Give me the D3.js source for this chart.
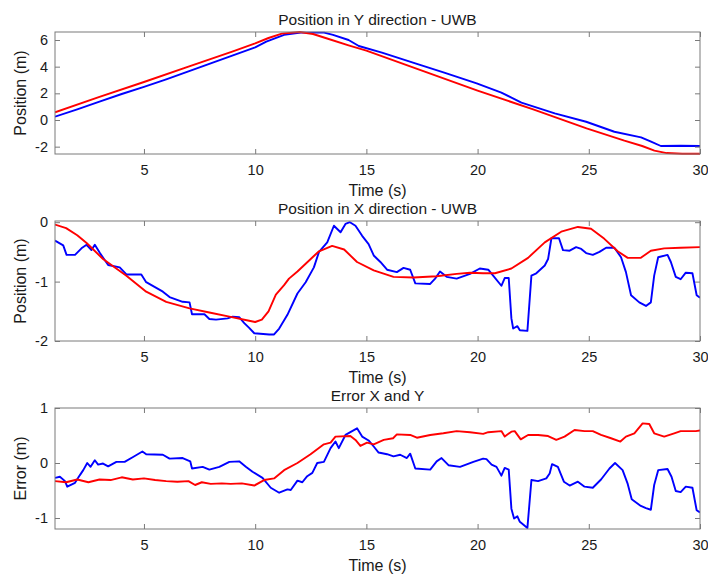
<!DOCTYPE html>
<html>
<head>
<meta charset="utf-8">
<script src="https://cdn.jsdelivr.net/npm/d3@7"></script>
<style>
  body { margin: 0; background: #fff; }
  svg text { font-family: "Liberation Sans", Arial, Helvetica, sans-serif; fill: #1a1a1a; }
</style>
</head>
<body>
<div id="chart"></div>
<script>
// time ticks shared by all three panels
const timeTicks = [5, 10, 15, 20, 25, 30];

// Position in Y direction [time, value]
const posYRef = [[1,0.58],[3,1.74],[5,2.85],[7,4.0],[9,5.15],[10,5.75],[10.6,6.15],[11.2,6.48],[12,6.6],[12.6,6.45],[13.2,6.13],[14.2,5.6],[15,5.2],[17.5,3.7],[20,2.2],[22.5,0.8],[24.9,-0.63],[26.6,-1.55],[27.4,-1.95],[27.95,-2.3],[28.5,-2.48],[29.2,-2.53],[30,-2.53]];
const posYUwb = [[1,0.25],[2,0.8],[3,1.38],[4,1.95],[5,2.48],[6,3.05],[7,3.65],[8,4.25],[9,4.85],[10,5.45],[10.5,5.88],[11.3,6.38],[12.05,6.55],[13.1,6.55],[13.5,6.38],[14.2,6.0],[14.66,5.55],[15.7,5.05],[17.2,4.25],[18.5,3.55],[19.96,2.75],[21.07,2.05],[21.5,1.7],[21.97,1.3],[23.47,0.5],[24.88,-0.13],[26.15,-0.88],[27.35,-1.3],[27.8,-1.63],[28.24,-1.95],[29.13,-1.93],[30,-1.95]];

// Position in X direction
const posXRef = [[1,-0.04],[1.5,-0.1],[2,-0.22],[2.42,-0.35],[3.16,-0.62],[4.21,-0.9],[5.1,-1.17],[6.0,-1.34],[7.05,-1.45],[7.94,-1.52],[8.84,-1.59],[9.73,-1.66],[10.0,-1.68],[10.3,-1.64],[10.6,-1.5],[10.93,-1.22],[11.3,-1.06],[11.52,-0.95],[11.9,-0.83],[12.27,-0.7],[12.64,-0.57],[12.87,-0.49],[13.46,-0.4],[14.0,-0.46],[14.58,-0.67],[15.33,-0.81],[16.22,-0.92],[17.12,-0.93],[18.16,-0.91],[19.06,-0.87],[19.66,-0.85],[20.25,-0.86],[20.78,-0.86],[21.52,-0.78],[22.27,-0.6],[23.02,-0.34],[23.76,-0.16],[24.51,-0.08],[25.1,-0.11],[25.7,-0.28],[26.3,-0.49],[26.75,-0.6],[27.34,-0.6],[27.79,-0.48],[28.39,-0.44],[29.13,-0.43],[30,-0.42]];
const posXUwb = [[1,-0.31],[1.37,-0.39],[1.52,-0.55],[1.9,-0.55],[2.19,-0.44],[2.42,-0.38],[2.64,-0.47],[2.79,-0.38],[3.02,-0.52],[3.39,-0.72],[3.91,-0.76],[4.21,-0.88],[4.88,-0.88],[5.1,-1.01],[5.85,-1.17],[6.15,-1.26],[6.74,-1.34],[7.05,-1.35],[7.16,-1.55],[7.72,-1.55],[7.94,-1.63],[8.24,-1.64],[8.76,-1.62],[8.99,-1.59],[9.28,-1.6],[9.51,-1.7],[9.73,-1.78],[9.96,-1.87],[10.63,-1.89],[10.85,-1.89],[11.08,-1.79],[11.45,-1.56],[11.9,-1.2],[12.27,-1.01],[12.64,-0.76],[12.87,-0.5],[13.24,-0.34],[13.54,-0.06],[13.84,-0.17],[14.06,-0.03],[14.26,0],[14.51,-0.06],[14.81,-0.23],[15.1,-0.37],[15.33,-0.56],[15.63,-0.67],[15.93,-0.8],[16.37,-0.84],[16.67,-0.77],[16.97,-0.8],[17.2,-1.03],[17.87,-1.04],[18.09,-0.95],[18.31,-0.83],[18.61,-0.92],[19.06,-0.95],[19.66,-0.87],[20.1,-0.78],[20.48,-0.8],[20.7,-0.9],[21.07,-1.07],[21.22,-0.94],[21.4,-0.94],[21.52,-1.62],[21.6,-1.79],[21.79,-1.75],[21.9,-1.82],[22.24,-1.83],[22.42,-0.9],[22.64,-0.86],[23.02,-0.73],[23.17,-0.62],[23.32,-0.27],[23.66,-0.27],[23.84,-0.47],[24.14,-0.48],[24.43,-0.42],[24.66,-0.45],[24.88,-0.52],[25.18,-0.55],[25.48,-0.5],[25.78,-0.43],[26.15,-0.43],[26.45,-0.59],[26.67,-0.84],[26.9,-1.23],[27.27,-1.35],[27.57,-1.41],[27.79,-1.35],[27.94,-0.9],[28.12,-0.59],[28.54,-0.55],[28.69,-0.67],[28.91,-0.92],[29.13,-0.96],[29.36,-0.85],[29.66,-0.86],[29.85,-1.23],[30,-1.27]];

// Error X and Y
const errRed = [[1,-0.33],[1.5,-0.35],[2,-0.3],[2.5,-0.35],[3,-0.3],[3.5,-0.31],[4.0,-0.26],[4.5,-0.3],[5,-0.28],[5.5,-0.31],[6,-0.33],[6.5,-0.34],[7.0,-0.33],[7.3,-0.4],[7.6,-0.35],[8.0,-0.38],[8.5,-0.37],[8.9,-0.38],[9.4,-0.37],[9.96,-0.41],[10.4,-0.31],[10.85,-0.28],[11.3,-0.13],[11.9,0],[12.49,0.16],[13.09,0.34],[13.39,0.37],[13.61,0.48],[14.28,0.49],[14.51,0.42],[14.73,0.31],[15.03,0.37],[15.33,0.34],[15.78,0.42],[16.2,0.45],[16.37,0.52],[16.97,0.51],[17.27,0.46],[17.87,0.51],[18.46,0.54],[19.06,0.58],[19.66,0.56],[20.25,0.53],[20.48,0.56],[21.07,0.58],[21.22,0.48],[21.52,0.57],[21.67,0.58],[21.94,0.43],[22.27,0.51],[22.72,0.51],[23.17,0.49],[23.54,0.42],[23.91,0.48],[24.36,0.6],[24.81,0.58],[25.18,0.58],[25.55,0.51],[26.0,0.45],[26.42,0.39],[26.67,0.48],[27.05,0.54],[27.42,0.72],[27.72,0.71],[27.94,0.54],[28.39,0.48],[28.84,0.54],[29.13,0.58],[29.81,0.58],[30,0.59]];
const errBlue = [[1,-0.27],[1.22,-0.25],[1.45,-0.33],[1.55,-0.43],[1.9,-0.36],[2.12,-0.22],[2.27,-0.13],[2.45,0],[2.6,-0.07],[2.79,0.05],[2.94,-0.03],[3.16,-0.01],[3.39,-0.06],[3.76,0.02],[4.13,0.02],[4.51,0.11],[4.93,0.21],[5.1,0.16],[5.85,0.15],[6.15,0.08],[6.74,0.09],[7.08,0.03],[7.16,-0.1],[7.64,-0.07],[7.94,-0.12],[8.39,-0.07],[8.84,0.02],[9.28,0.03],[9.58,-0.07],[9.88,-0.16],[10.33,-0.27],[10.7,-0.45],[11.08,-0.54],[11.45,-0.48],[11.6,-0.49],[11.9,-0.32],[12.12,-0.35],[12.34,-0.24],[12.57,-0.18],[12.79,0],[13.09,0.02],[13.39,0.27],[13.61,0.39],[13.76,0.27],[14.06,0.51],[14.28,0.56],[14.58,0.63],[14.81,0.48],[15.1,0.41],[15.33,0.3],[15.55,0.19],[15.93,0.16],[16.22,0.12],[16.52,0.15],[16.82,0.09],[16.97,0.17],[17.2,-0.1],[17.87,-0.12],[18.16,0.03],[18.38,0.09],[18.69,-0.04],[19.21,-0.07],[19.81,0.02],[20.25,0.08],[20.4,0.07],[20.63,-0.03],[20.85,-0.07],[21.07,-0.23],[21.22,-0.09],[21.4,-0.12],[21.52,-0.83],[21.64,-1.01],[21.79,-0.97],[21.9,-1.07],[22.24,-1.18],[22.42,-0.31],[22.72,-0.33],[23.09,-0.28],[23.24,-0.19],[23.35,-0.02],[23.61,-0.07],[23.88,-0.34],[24.14,-0.41],[24.51,-0.34],[24.81,-0.43],[25.18,-0.45],[25.55,-0.3],[25.93,-0.1],[26.18,0],[26.52,-0.13],[26.75,-0.38],[26.93,-0.66],[27.34,-0.78],[27.57,-0.82],[27.79,-0.85],[27.94,-0.4],[28.12,-0.13],[28.54,-0.11],[28.72,-0.25],[28.91,-0.51],[29.13,-0.53],[29.36,-0.43],[29.66,-0.45],[29.85,-0.86],[30,-0.9]];

const plotLeft = 55, plotRight = 700;
const width = 708, height = 578;

const svg = d3.select("#chart").append("svg")
  .attr("width", width)
  .attr("height", height);

const x = d3.scaleLinear().domain([1, 30]).range([plotLeft, plotRight]);

const panels = [
  { title: "Position in Y direction - UWB", ylabel: "Position (m)", top: 32, bottom: 154,
    domain: [-2.55, 6.6], yticks: [-2, 0, 2, 4, 6], red: posYRef, blue: posYUwb },
  { title: "Position in X direction - UWB", ylabel: "Position (m)", top: 221, bottom: 341,
    domain: [-2, 0.02], yticks: [-2, -1, 0], red: posXRef, blue: posXUwb },
  { title: "Error X and Y", ylabel: "Error (m)", top: 408, bottom: 529,
    domain: [-1.2, 1], yticks: [-1, 0, 1], red: errRed, blue: errBlue }
];

const axisColor = "#7a7a7a";
const plainNum = d => String(d); // matlab style, hyphen minus

panels.forEach(p => {
  const y = d3.scaleLinear().domain(p.domain).range([p.bottom, p.top]);
  const g = svg.append("g");

  const clipId = "clip" + p.top;
  g.append("clipPath").attr("id", clipId)
    .append("rect")
    .attr("x", plotLeft).attr("y", p.top - 1)
    .attr("width", plotRight - plotLeft).attr("height", p.bottom - p.top + 2);

  const line = d3.line().x(d => x(d[0])).y(d => y(d[1]));

  // blue drawn first, red on top where they cross
  g.append("path").datum(p.blue)
    .attr("clip-path", `url(#${clipId})`)
    .attr("d", line)
    .attr("fill", "none")
    .attr("stroke", "#0000ff")
    .attr("stroke-width", 1.9)
    .attr("stroke-linejoin", "round");

  g.append("path").datum(p.red)
    .attr("clip-path", `url(#${clipId})`)
    .attr("d", line)
    .attr("fill", "none")
    .attr("stroke", "#ff0000")
    .attr("stroke-width", 1.9)
    .attr("stroke-linejoin", "round");

  // axes, ticks inside like matlab
  const bottomAxis = g.append("g")
    .attr("transform", `translate(0,${p.bottom})`)
    .call(d3.axisBottom(x).tickValues(timeTicks).tickSizeInner(-5).tickSizeOuter(0).tickPadding(11).tickFormat(plainNum));
  const topAxis = g.append("g")
    .attr("transform", `translate(0,${p.top})`)
    .call(d3.axisTop(x).tickValues(timeTicks).tickSizeInner(-5).tickSizeOuter(0).tickFormat(""));
  const leftAxis = g.append("g")
    .attr("transform", `translate(${plotLeft},0)`)
    .call(d3.axisLeft(y).tickValues(p.yticks).tickSizeInner(-5).tickSizeOuter(0).tickPadding(7).tickFormat(plainNum));
  const rightAxis = g.append("g")
    .attr("transform", `translate(${plotRight},0)`)
    .call(d3.axisRight(y).tickValues(p.yticks).tickSizeInner(-5).tickSizeOuter(0).tickFormat(""));

  [bottomAxis, topAxis, leftAxis, rightAxis].forEach(a => {
    a.select(".domain").remove();
    a.selectAll(".tick line").attr("stroke", axisColor);
    a.selectAll(".tick text")
      .style("font-size", "14.5px")
      .style("font-family", "'Liberation Sans', Arial, sans-serif")
      .attr("fill", "#222");
  });

  g.append("rect")
    .attr("x", plotLeft).attr("y", p.top)
    .attr("width", plotRight - plotLeft).attr("height", p.bottom - p.top)
    .attr("fill", "none")
    .attr("stroke", axisColor)
    .attr("stroke-width", 1);

  g.append("text")
    .attr("x", (plotLeft + plotRight) / 2)
    .attr("y", p.top - 7)
    .attr("text-anchor", "middle")
    .style("font-size", "15.5px")
    .text(p.title);

  g.append("text")
    .attr("x", (plotLeft + plotRight) / 2)
    .attr("y", p.bottom + 42)
    .attr("text-anchor", "middle")
    .style("font-size", "16px")
    .text("Time (s)");

  g.append("text")
    .attr("transform", `translate(26,${(p.top + p.bottom) / 2}) rotate(-90)`)
    .attr("text-anchor", "middle")
    .style("font-size", "16px")
    .text(p.ylabel);
});
</script>
</body>
</html>
